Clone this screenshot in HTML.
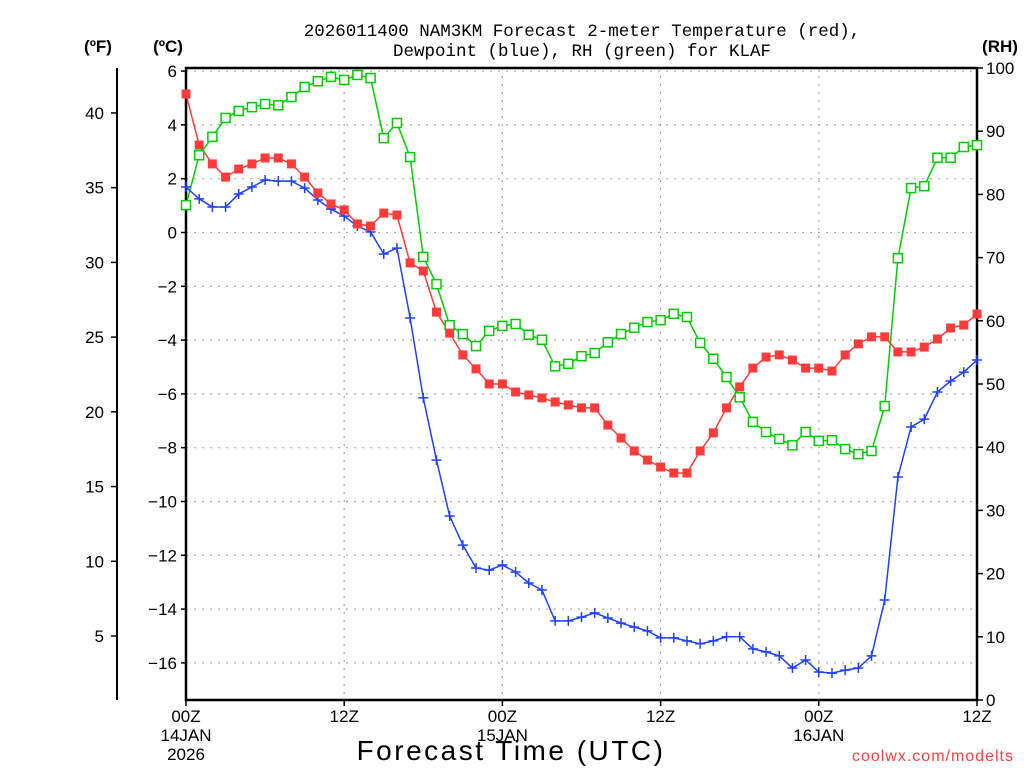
<!DOCTYPE html>
<html><head><meta charset="utf-8"><style>
html,body{margin:0;padding:0;background:#fff;}
svg{display:block;font-family:"Liberation Sans",sans-serif;}
</style></head><body>
<svg id="chart" width="1024" height="768" viewBox="0 0 1024 768" xmlns="http://www.w3.org/2000/svg">
<rect width="1024" height="768" fill="#fff"/>
<text x="582" y="36" font-size="17.5" font-family="Liberation Mono, monospace" text-anchor="middle" fill="#000">2026011400 NAM3KM Forecast 2-meter Temperature (red),</text>
<text x="582" y="56" font-size="17.5" font-family="Liberation Mono, monospace" text-anchor="middle" fill="#000">Dewpoint (blue), RH (green) for KLAF</text>
<text x="98" y="52" font-size="17" font-weight="bold" text-anchor="middle">(ºF)</text>
<text x="168" y="52" font-size="17" font-weight="bold" text-anchor="middle">(ºC)</text>
<text x="1000" y="52" font-size="17" font-weight="bold" text-anchor="middle">(RH)</text>
<text x="511" y="760" font-size="28" text-anchor="middle" letter-spacing="2.5">Forecast Time (UTC)</text>
<text x="1014" y="761" font-size="16" text-anchor="end" fill="#ff4040" letter-spacing="1">coolwx.com/modelts</text>
<g id="grid"></g>
<g id="axes"></g>
<g id="series"></g>
</svg>
<script>
const hours = Array.from({length:61},(_,i)=>i);
const tempC = [5.15,3.25,2.55,2.06,2.36,2.55,2.77,2.77,2.55,2.06,1.47,1.06,0.84,0.32,0.24,0.72,0.65,-1.13,-1.43,-2.96,-3.74,-4.55,-5.07,-5.63,-5.63,-5.93,-6.04,-6.15,-6.30,-6.41,-6.52,-6.52,-7.16,-7.64,-8.12,-8.46,-8.72,-8.94,-8.94,-8.12,-7.45,-6.52,-5.74,-5.04,-4.63,-4.55,-4.74,-5.04,-5.04,-5.15,-4.55,-4.14,-3.88,-3.88,-4.44,-4.44,-4.26,-3.96,-3.55,-3.44,-3.03];
const dewC = [1.69,1.25,0.95,0.95,1.43,1.69,1.95,1.91,1.91,1.65,1.21,0.87,0.61,0.24,0.02,-0.80,-0.58,-3.18,-6.15,-8.46,-10.54,-11.62,-12.47,-12.55,-12.36,-12.62,-13.03,-13.29,-14.44,-14.44,-14.3,-14.14,-14.33,-14.52,-14.67,-14.81,-15.07,-15.07,-15.18,-15.29,-15.18,-15.03,-15.03,-15.48,-15.59,-15.74,-16.19,-15.89,-16.34,-16.38,-16.27,-16.19,-15.74,-13.66,-9.09,-7.23,-6.94,-5.93,-5.52,-5.19,-4.74];
const rh = [78.3,86.2,89.1,92.1,93.2,93.8,94.3,94.1,95.4,97.0,97.9,98.6,98.1,98.9,98.4,88.9,91.3,85.9,70.1,65.8,59.3,57.9,56.0,58.4,59.2,59.5,57.8,57.0,52.8,53.2,54.4,54.9,56.6,57.9,58.9,59.8,60.1,61.1,60.6,56.5,54.0,51.1,47.9,44.0,42.4,41.3,40.3,42.4,41.0,41.1,39.7,38.9,39.4,46.5,69.9,81.0,81.3,85.8,85.8,87.5,87.8];
const cTicks = [6,4,2,0,-2,-4,-6,-8,-10,-12,-14,-16];
const fTicks = [40,35,30,25,20,15,10,5];
const rhTicks = [0,10,20,30,40,50,60,70,80,90,100];
const xTickHours = [0,12,24,36,48,60];
const xTickLabels = ["00Z","12Z","00Z","12Z","00Z","12Z"];
const xDateLabels = {0:["14JAN","2026"],24:["15JAN"],48:["16JAN"]};

const X0=186,X1=977,Y0=68,Y1=700;
const xS=h=>X0+(X1-X0)*h/60;
const cS=c=>232.5-c*26.9;
const fS=f=>cS((f-32)*5/9);
const rS=r=>Y1-(Y1-Y0)*r/100;
const NS="http://www.w3.org/2000/svg";
function mk(tag,attrs,parent,txt){const e=document.createElementNS(NS,tag);for(const k in attrs)e.setAttribute(k,attrs[k]);if(txt!==undefined)e.textContent=txt;parent.appendChild(e);return e;}
const grid=document.getElementById('grid'),axes=document.getElementById('axes'),ser=document.getElementById('series');

cTicks.forEach(c=>{const y=cS(c);
 const g=mk('line',{x1:X0,x2:X1,y1:y,y2:y,stroke:'#aaa','stroke-width':1.2,'stroke-dasharray':'2 6'},grid);
 
 
 mk('line',{x1:X0-5,x2:X0,y1:y,y2:y,stroke:'#000','stroke-width':1.5},axes);
 const t=mk('text',{x:X0-9,y:y+6,'font-size':17,'text-anchor':'end'},axes,(c<0?'\u2212':'')+Math.abs(c));
 
 
});
xTickHours.forEach((h,i)=>{const x=xS(h);
 if(h>0&&h<60){const g=mk('line',{x1:x,x2:x,y1:Y0,y2:Y1,stroke:'#aaa','stroke-width':1.2,'stroke-dasharray':'2 6'},grid);
 
 }
 mk('line',{x1:x,x2:x,y1:Y1,y2:Y1+6,stroke:'#000','stroke-width':1.5},axes);
 const t=mk('text',{x:x,y:722,'font-size':17,'text-anchor':'middle'},axes,xTickLabels[i]);
 
 
 (xDateLabels[h]||[]).forEach((s,j)=>{const d=mk('text',{x:x,y:741+j*19,'font-size':17,'text-anchor':'middle'},axes,s);
 
 });
});
fTicks.forEach(f=>{const y=fS(f);
 mk('line',{x1:111,x2:117,y1:y,y2:y,stroke:'#000','stroke-width':1.5},axes);
 const t=mk('text',{x:104,y:y+6,'font-size':17,'text-anchor':'end'},axes,String(f));
 
 
});
rhTicks.forEach(r=>{const y=rS(r);
 mk('line',{x1:X1,x2:X1+6,y1:y,y2:y,stroke:'#000','stroke-width':1.5},axes);
 const t=mk('text',{x:986,y:y+6,'font-size':17,'text-anchor':'start'},axes,String(r));
 
 
});
const fl=mk('line',{x1:117,x2:117,y1:Y0,y2:Y1,stroke:'#000','stroke-width':2},axes);


const fr=mk('rect',{x:X0,y:Y0,width:X1-X0,height:Y1-Y0,fill:'none',stroke:'#000','stroke-width':2.5},axes);



function line(vals,sc,color,name){
 const p=mk('polyline',{points:vals.map((v,i)=>xS(hours[i])+','+sc(v)).join(' '),fill:'none',stroke:color,'stroke-width':1.5},ser);
 
 
}
line(rh,rS,'#00cc00','rh');
line(dewC,cS,'#2040ff','dewpoint');
line(tempC,cS,'#ff3b3b','temperature');
rh.forEach((v,i)=>{const m=mk('rect',{x:xS(hours[i])-4.5,y:rS(v)-4.5,width:9,height:9,fill:'#fff',stroke:'#00cc00','stroke-width':1.5},ser);
 
 });
dewC.forEach((v,i)=>{const x=xS(hours[i]),y=cS(v);
 const m=mk('path',{d:`M${x-5},${y}H${x+5}M${x},${y-5}V${y+5}`,stroke:'#2040ff','stroke-width':1.5,fill:'none'},ser);
 
 });
tempC.forEach((v,i)=>{const m=mk('rect',{x:xS(hours[i])-4.5,y:cS(v)-4.5,width:9,height:9,fill:'#ff3b3b'},ser);
 
 });
</script>
</body></html>
